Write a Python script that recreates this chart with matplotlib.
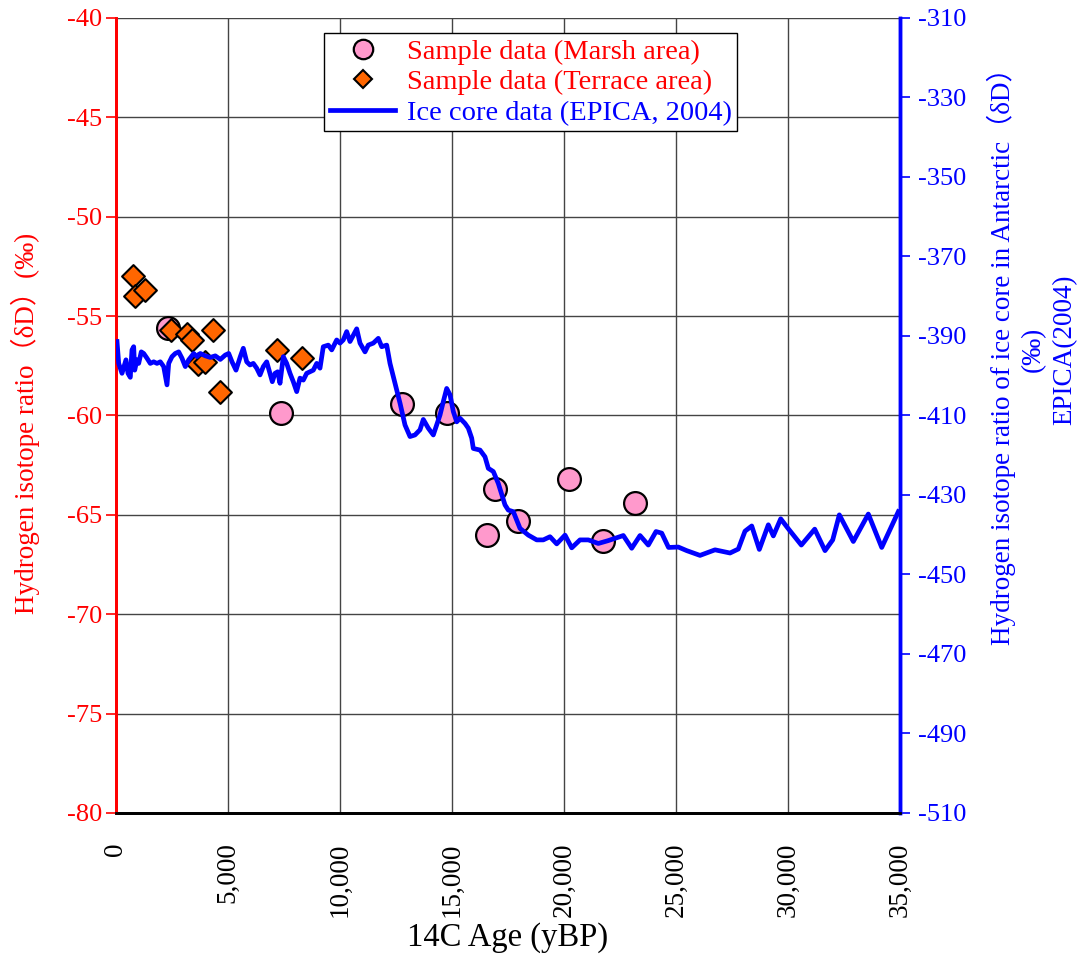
import matplotlib
matplotlib.use('Agg')
import matplotlib.pyplot as plt
from matplotlib.lines import Line2D

plt.rcParams['font.family'] = ['Liberation Serif', 'DejaVu Serif']

# sample data, marsh area (age yBP, dD permil)
MARSH_AGE = [2320, 7370, 12770, 14760, 16550, 16920, 17960, 20240, 21760, 23180]
MARSH_DD = [-55.6, -59.9, -59.4, -59.9, -66.0, -63.7, -65.3, -63.2, -66.3, -64.4]

# sample data, terrace area
TERRACE_AGE = [745, 850, 1280, 2455, 3155, 3380, 4345, 3645, 3975, 4645, 7175, 8320]
TERRACE_DD = [-53.0, -54.0, -53.7, -55.7, -55.9, -56.2, -55.7, -57.4, -57.3, -58.8, -56.7, -57.1]

# EPICA Dome C deuterium record
ICE_AGE = [45, 121, 268, 446, 536, 638, 714, 790, 835, 937,
           1013, 1129, 1237, 1384, 1531, 1683, 1830, 1978, 2129, 2277,
           2353, 2500, 2647, 2799, 2946, 3094, 3246, 3469, 3616, 3763,
           3987, 4210, 4433, 4656, 4879, 5031, 5179, 5357, 5549, 5683,
           5835, 5982, 6129, 6281, 6429, 6576, 6728, 6875, 6978, 7098,
           7219, 7321, 7469, 7620, 7768, 7915, 8067, 8214, 8362, 8513,
           8661, 8808, 8960, 9107, 9254, 9478, 9630, 9853, 10000, 10147,
           10299, 10446, 10746, 10893, 11116, 11263, 11487, 11710, 11862, 12085,
           12232, 12380, 12531, 12679, 12902, 13125, 13348, 13571, 13719, 13942,
           14165, 14464, 14612, 14763, 14911, 15058, 15210, 15357, 15580, 15728,
           15879, 15951, 16250, 16473, 16621, 16844, 17067, 17366, 17513, 17737,
           18036, 18407, 18781, 19076, 19375, 19674, 20045, 20344, 20714, 21085,
           21531, 21964, 22647, 23022, 23393, 23763, 24107, 24362, 24666, 25103,
           25478, 26071, 26741, 27411, 27781, 28080, 28380, 28719, 29121, 29344,
           29674, 30000, 30594, 31192, 31652, 31995, 32290, 32915, 33585, 34183,
           34924]
ICE_DD = [-391.4, -396.9, -399.4, -396.0, -399.4, -400.4, -393.5, -392.7, -398.6, -396.0,
          -396.9, -394.0, -394.4, -395.6, -396.9, -396.5, -396.9, -396.5, -397.7, -402.3,
          -396.9, -395.2, -394.4, -394.0, -395.6, -397.7, -396.0, -394.4, -395.2, -394.4,
          -395.0, -395.4, -395.0, -395.9, -394.8, -394.4, -396.5, -398.6, -395.2, -393.1,
          -396.5, -397.3, -396.9, -398.1, -399.8, -397.7, -396.5, -399.4, -401.5, -399.4,
          -399.0, -401.9, -395.2, -396.9, -399.4, -401.5, -404.0, -400.6, -401.1, -399.4,
          -399.0, -398.6, -396.9, -398.1, -392.7, -392.3, -393.5, -391.0, -391.8, -391.0,
          -388.9, -391.4, -388.2, -391.8, -394.0, -392.3, -391.8, -390.6, -392.7, -392.3,
          -396.9, -400.2, -403.6, -406.9, -412.4, -415.3, -414.9, -413.6, -411.0, -413.2,
          -414.9, -409.9, -406.5, -403.2, -404.8, -409.0, -411.6, -410.7, -412.0, -413.2,
          -415.7, -418.3, -418.7, -420.4, -423.3, -424.1, -427.1, -432.5, -433.8, -434.2,
          -438.4, -440.1, -441.3, -441.3, -440.5, -442.3, -440.1, -443.3, -441.3, -441.3,
          -442.2, -441.5, -440.2, -443.4, -440.2, -442.6, -439.2, -439.6, -443.2, -443.1,
          -444.0, -445.2, -443.8, -444.6, -443.6, -439.1, -437.8, -443.7, -437.5, -440.3,
          -436.0, -438.4, -442.6, -438.6, -444.0, -441.3, -435.0, -441.7, -434.8, -443.2,
          -434.2]

X_TICKS = [0, 5000, 10000, 15000, 20000, 25000, 30000, 35000]
LEFT_TICKS = [-80, -75, -70, -65, -60, -55, -50, -45, -40]
RIGHT_TICKS = [-510, -490, -470, -450, -430, -410, -390, -370, -350, -330, -310]

PINK = '#FF99CC'
ORANGE = '#FF6600'
RED = '#FF0000'
BLUE = '#0000FF'
LABEL_FONT = ['Liberation Serif', 'Noto Sans CJK JP', 'DejaVu Serif']

fig = plt.figure(figsize=(10.78, 9.55), dpi=100)
ax = fig.add_axes([0.1076, 0.1487, 0.7273, 0.8325])
ax2 = ax.twinx()

ax.scatter(MARSH_AGE, MARSH_DD, s=270, marker='o', facecolor=PINK,
           edgecolor='black', linewidth=1.6, zorder=3)
ax.scatter(TERRACE_AGE, TERRACE_DD, s=135, marker='D', facecolor=ORANGE,
           edgecolor='black', linewidth=1.5, zorder=4)
ax2.plot(ICE_AGE, ICE_DD, color=BLUE, linewidth=3.4, zorder=5)

ax.set_xlim(0, 35000)
ax.set_ylim(-80, -40)
ax2.set_ylim(-510, -310)

ax.set_xticks(X_TICKS)
ax.set_xticklabels([f'{v:,}' for v in X_TICKS], rotation=90, fontsize=19.5)
ax.set_yticks(LEFT_TICKS)
ax.set_yticklabels([str(v) for v in LEFT_TICKS], fontsize=19, color=RED)
ax2.set_yticks(RIGHT_TICKS)
ax2.set_yticklabels([str(v) for v in RIGHT_TICKS], fontsize=19, color=BLUE)

ax.tick_params(axis='x', length=0, pad=21)
ax.tick_params(axis='y', direction='out', length=7, width=1.2, color=RED, pad=3)
ax2.tick_params(axis='y', direction='out', length=7, width=1.2, color=BLUE, pad=6)

ax.grid(True, color='#444444', linewidth=1.0)
ax.set_axisbelow(True)

for a in (ax, ax2):
    a.spines['top'].set_visible(False)
    a.spines['left'].set_color(RED)
    a.spines['left'].set_linewidth(2)
    a.spines['right'].set_color(BLUE)
    a.spines['right'].set_linewidth(2.5)
    a.spines['bottom'].set_color('black')
    a.spines['bottom'].set_linewidth(2)

ax.set_xlabel('14C Age (yBP)', fontsize=23.5, labelpad=4)

fig.text(0.024, 0.557, 'Hydrogen isotope ratio（δD）(‰)', rotation=90,
         ha='center', va='center', fontsize=19.5, color=RED, family=LABEL_FONT)
fig.text(0.957, 0.634,
         'Hydrogen isotope ratio of ice core in Antarctic（δD）\n(‰)\nEPICA(2004)',
         rotation=90, ha='center', va='center', ma='center', fontsize=19.5,
         color=BLUE, linespacing=1.3, family=LABEL_FONT)

handles = [
    Line2D([], [], linestyle='none', marker='o', markersize=14,
           markerfacecolor=PINK, markeredgecolor='black', markeredgewidth=1.6),
    Line2D([], [], linestyle='none', marker='D', markersize=9.5,
           markerfacecolor=ORANGE, markeredgecolor='black', markeredgewidth=1.5),
    Line2D([], [], color=BLUE, linewidth=3.4),
]
labels = ['Sample data (Marsh area)', 'Sample data (Terrace area)',
          'Ice core data (EPICA, 2004)']
leg = ax2.legend(handles, labels, loc='upper center', bbox_to_anchor=(0.529, 0.981),
                 fontsize=20.5, frameon=True, fancybox=False, framealpha=1,
                 edgecolor='black', handlelength=2.3, handletextpad=0.4,
                 borderpad=0.2, labelspacing=0.16, borderaxespad=0)
leg.get_frame().set_linewidth(1.0)
for txt, col in zip(leg.get_texts(), [RED, RED, BLUE]):
    txt.set_color(col)

fig.savefig('out.png', dpi=100)
